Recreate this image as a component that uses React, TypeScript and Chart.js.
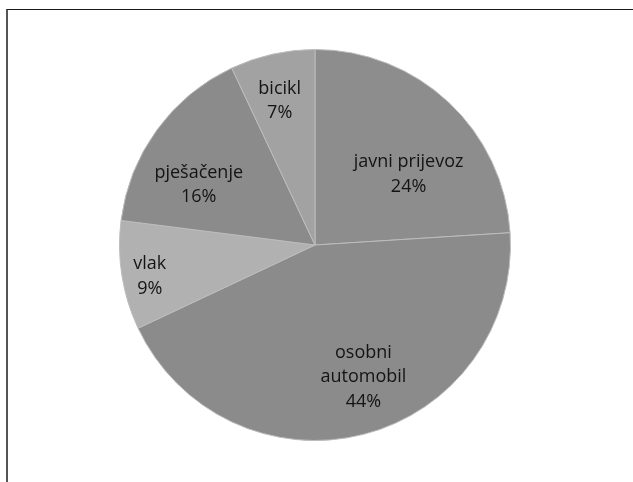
import React, { useEffect, useRef } from "react";
import { Chart, registerables } from "chart.js";

Chart.register(...registerables);

const categories: string[][] = [
  ["javni prijevoz"],
  ["osobni", "automobil"],
  ["vlak"],
  ["pješačenje"],
  ["bicikl"],
];
const values: number[] = [24, 44, 9, 16, 7];
const sliceColors: string[] = ["#8d8d8e", "#8b8b8c", "#b1b1b1", "#8b8b8b", "#a2a2a3"];
// label placement as fraction of radius and angle shift (radians)
const labelRadius: number[] = [0.6, 0.72, 0.86, 0.67, 0.76];
const labelShift: number[] = [0.17, -0.1, -0.03, -0.15, -0.02];

const labelPlugin = {
  id: "sliceLabels",
  afterDatasetsDraw(chart: any) {
    const meta = chart.getDatasetMeta(0);
    const ctx = chart.ctx;
    ctx.save();
    ctx.fillStyle = "#141414";
    ctx.font = "18px 'Open Sans'";
    ctx.textAlign = "center";
    ctx.textBaseline = "middle";
    const lineH = 24.5;
    meta.data.forEach((arc: any, i: number) => {
      const { x, y, startAngle, endAngle, outerRadius } = arc.getProps(
        ["x", "y", "startAngle", "endAngle", "outerRadius"],
        true
      );
      const mid = (startAngle + endAngle) / 2 + labelShift[i];
      const r = outerRadius * labelRadius[i];
      const cx = x + Math.cos(mid) * r;
      const cy = y + Math.sin(mid) * r;
      const lines = [...categories[i], values[i] + "%"];
      const top = cy - ((lines.length - 1) * lineH) / 2;
      lines.forEach((t, k) => ctx.fillText(t, cx, top + k * lineH));
    });
    ctx.restore();
  },
};

export default function App() {
  const ref = useRef<HTMLCanvasElement | null>(null);
  useEffect(() => {
    if (!ref.current) return;
    const chart = new Chart(ref.current, {
      type: "pie",
      data: {
        labels: categories.map((c) => c.join(" ")),
        datasets: [
          {
            data: values,
            backgroundColor: sliceColors,
            borderColor: "#bcbcbc",
            borderWidth: 1,
          },
        ],
      },
      options: {
        animation: false,
        responsive: true,
        maintainAspectRatio: false,
        layout: { padding: { left: 119, right: 122, top: 49, bottom: 41 } },
        plugins: { legend: { display: false }, tooltip: { enabled: false } },
      },
      plugins: [labelPlugin],
    });
    return () => chart.destroy();
  }, []);
  return (
    <div style={{ position: "absolute", left: 0, top: 0, width: 633, height: 482, background: "#fff", overflow: "hidden" }}>
      <div
        style={{
          position: "absolute",
          left: 6,
          top: 9,
          width: 640,
          height: 490,
          borderTop: "1.5px solid #1a1a1a",
          borderLeft: "2px solid #555",
          boxSizing: "border-box",
        }}
      />
      <canvas ref={ref} style={{ position: "absolute", left: 0, top: 0, width: 633, height: 482 }} />
    </div>
  );
}
